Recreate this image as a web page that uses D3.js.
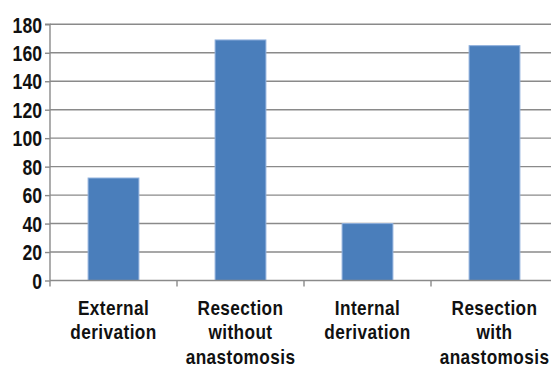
<!DOCTYPE html>
<html>
<head>
<meta charset="utf-8">
<script src="https://cdn.jsdelivr.net/npm/d3@7"></script>
<style>
  html, body { margin: 0; padding: 0; background: #fff; }
  svg { display: block; }
  text { font-family: "Liberation Sans", Arial, sans-serif; font-weight: bold; fill: #111; }
</style>
</head>
<body>
<svg id="chart" width="551" height="368"></svg>
<script>
const categories = [
  ["External", "derivation"],
  ["Resection", "without", "anastomosis"],
  ["Internal", "derivation"],
  ["Resection", "with", "anastomosis"]
];
const values = [72, 169, 40, 165];
const yTicks = [0, 20, 40, 60, 80, 100, 120, 140, 160, 180];

const svg = d3.select("#chart");
const x0 = 50, x1 = 558, yTop = 24.3, yBottom = 280.5;
const narrow = 0.82;

const x = d3.scaleBand()
  .domain(d3.range(categories.length))
  .range([x0, x1])
  .paddingInner(0.6)
  .paddingOuter(0.3);
const y = d3.scaleLinear().domain([0, 180]).range([yBottom, yTop]);

// gridlines
svg.append("g").selectAll("line")
  .data(yTicks.filter(d => d > 0))
  .join("line")
  .attr("x1", x0).attr("x2", 551)
  .attr("y1", d => y(d)).attr("y2", d => y(d))
  .attr("stroke", "#8a8a8a").attr("stroke-width", 1.4);

// bars
svg.append("g").selectAll("rect")
  .data(values)
  .join("rect")
  .attr("x", (d, i) => x(i))
  .attr("width", x.bandwidth())
  .attr("y", d => y(d))
  .attr("height", d => y(0) - y(d))
  .attr("fill", "#4a7ebb")
  .attr("stroke", "#8fb0dc")
  .attr("stroke-width", 1);

// y axis
const yAxis = d3.axisLeft(y).tickValues(yTicks).tickSize(5).tickPadding(3);
const gy = svg.append("g").attr("transform", `translate(${x0},0)`).call(yAxis);
gy.select(".domain").attr("stroke", "#8a8a8a").attr("stroke-width", 1.4).attr("d", `M-5,${yTop}H0V${yBottom}`);
gy.selectAll(".tick line").attr("stroke", "#8a8a8a").attr("stroke-width", 1.4);
gy.selectAll(".tick text").each(function() {
  const t = d3.select(this);
  const tx = +t.attr("x");
  t.attr("x", 0).attr("transform", `translate(${tx},0) scale(${narrow},1)`);
}).style("font-size", "21.5px").attr("fill", "#111").attr("dy", "0.36em");

// x axis
const step = x.step();
const boundaries = d3.range(categories.length + 1).map(i => x0 + i * step);
const gx = svg.append("g");
gx.append("line")
  .attr("x1", x0).attr("x2", 551)
  .attr("y1", yBottom).attr("y2", yBottom)
  .attr("stroke", "#8a8a8a").attr("stroke-width", 1.4);
gx.selectAll("line.tk")
  .data(boundaries)
  .join("line").attr("class", "tk")
  .attr("x1", d => d).attr("x2", d => d)
  .attr("y1", yBottom).attr("y2", yBottom + 6)
  .attr("stroke", "#8a8a8a").attr("stroke-width", 1.4);

const labels = gx.selectAll("text.cat")
  .data(categories)
  .join("text").attr("class", "cat")
  .attr("text-anchor", "middle")
  .attr("transform", (d, i) => `translate(${x(i) + x.bandwidth() / 2},0) scale(${narrow},1)`)
  .style("font-size", "21px")
  .style("letter-spacing", "0.5px");
labels.each(function(lines, i) {
  const t = d3.select(this);
  lines.forEach((ln, j) => {
    t.append("tspan")
      .attr("x", 0)
      .attr("y", 315 + j * 24.5)
      .text(ln);
  });
});
</script>
</body>
</html>
